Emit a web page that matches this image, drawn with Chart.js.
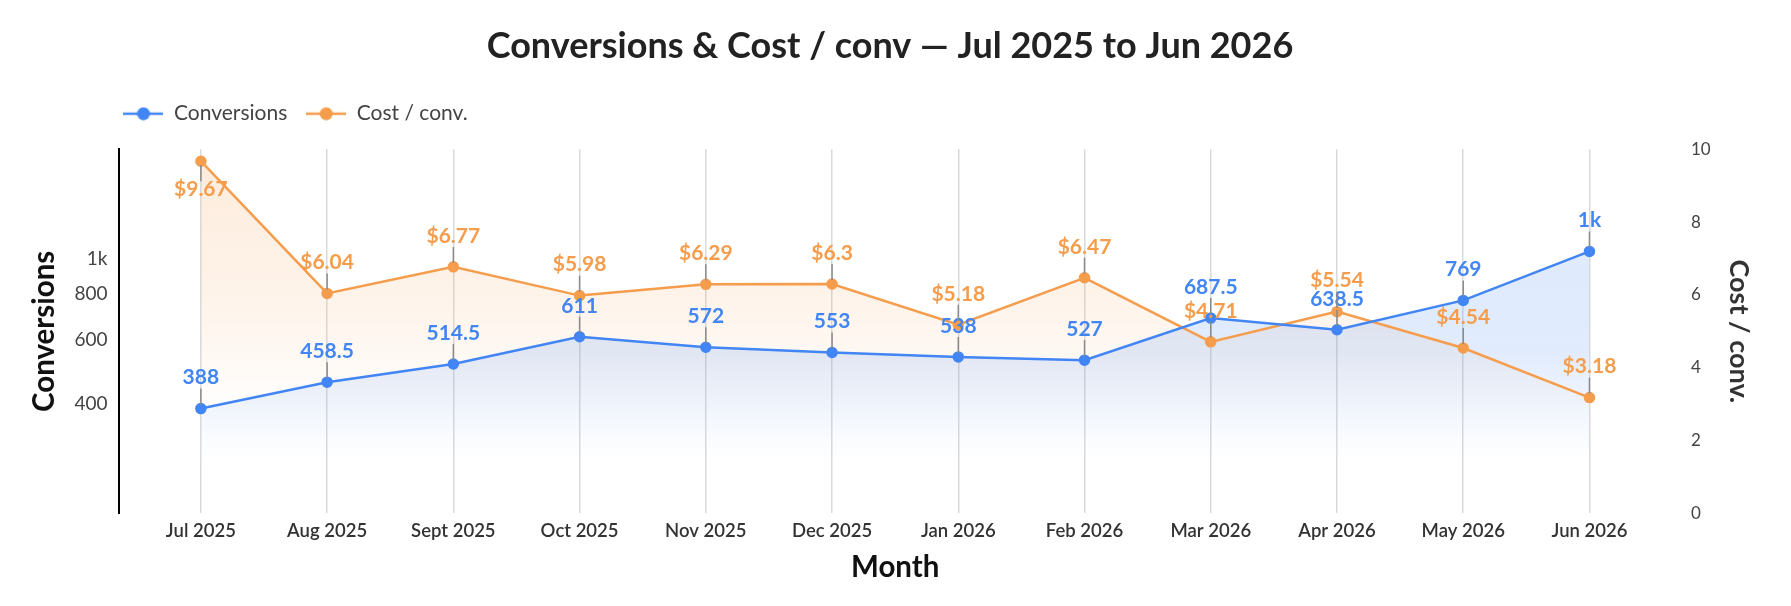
<!DOCTYPE html>
<html>
<head>
<meta charset="utf-8">
<script src="https://cdn.jsdelivr.net/npm/chart.js@4.4.0/dist/chart.umd.min.js"></script>
<style>
  html, body { margin: 0; padding: 0; background: #fff; }
  #wrap { width: 1791px; height: 606px; }
</style>
</head>
<body>
<div id="wrap"><canvas id="chart"></canvas></div>
<script>
const months = ["Jul 2025", "Aug 2025", "Sept 2025", "Oct 2025", "Nov 2025", "Dec 2025",
                "Jan 2026", "Feb 2026", "Mar 2026", "Apr 2026", "May 2026", "Jun 2026"];
const conversions = [388, 458.5, 514.5, 611, 572, 553, 538, 527, 687.5, 638.5, 769, 1048];
const costPerConv = [9.67, 6.04, 6.77, 5.98, 6.29, 6.3, 5.18, 6.47, 4.71, 5.54, 4.54, 3.18];
const convTicks = [400, 600, 800, 1000];

const BLUE = "#4285f4";
const ORANGE = "#f59d4c";

Chart.defaults.font.family = "Lato";

function fmtConv(v) {
  return v >= 1000 ? Math.round(v / 1000) + "k" : String(v);
}
function fmtCost(v) {
  return "$" + v;
}

// little line + dot used as the legend marker
function legendMark(color) {
  var c = document.createElement("canvas");
  c.width = 40;
  c.height = 14;
  var g = c.getContext("2d");
  g.strokeStyle = color;
  g.lineWidth = 2.5;
  g.beginPath();
  g.moveTo(0, 7);
  g.lineTo(40, 7);
  g.stroke();
  g.fillStyle = color;
  g.beginPath();
  g.arc(20, 7, 6.5, 0, Math.PI * 2);
  g.fill();
  return c;
}

// vertical fade: [stop, alpha] pairs
function fade(rgb, stops) {
  return function (ctx) {
    var area = ctx.chart.chartArea;
    if (!area) return "rgba(0,0,0,0)";
    var g = ctx.chart.ctx.createLinearGradient(0, area.top, 0, area.bottom);
    stops.forEach(function (s) {
      g.addColorStop(s[0], "rgba(" + rgb + "," + s[1] + ")");
    });
    return g;
  };
}

// value labels with a short leader line
const pointLabels = {
  id: "pointLabels",
  afterDatasetsDraw(chart) {
    var ctx = chart.ctx;
    var top = chart.chartArea.top;
    var fmts = [fmtConv, fmtCost];
    ctx.save();
    ctx.font = "bold 21px Lato";
    ctx.textAlign = "center";
    ctx.textBaseline = "middle";
    chart.data.datasets.forEach(function (ds, di) {
      var meta = chart.getDatasetMeta(di);
      meta.data.forEach(function (pt, i) {
        var down = pt.y - 42 < top;
        var dir = down ? 1 : -1;
        ctx.strokeStyle = "#8a8a8a";
        ctx.lineWidth = 1.5;
        ctx.beginPath();
        ctx.moveTo(pt.x, pt.y + dir * 4);
        ctx.lineTo(pt.x, pt.y + dir * 20);
        ctx.stroke();
        ctx.fillStyle = ds.borderColor;
        ctx.fillText(fmts[di](ds.data[i].y), pt.x, pt.y + dir * (down ? 28 : 31));
      });
    });
    ctx.restore();
  }
};

// legend sits a little right of the axis line, with extra room below it
const legendTweak = {
  id: "legendTweak",
  beforeLayout(chart) {
    var lg = chart.legend;
    if (!lg || lg._tweaked) return;
    var fit = lg.fit;
    lg.fit = function () {
      fit.call(this);
      this.height += 15;
    };
    lg._tweaked = true;
  },
  afterLayout(chart) {
    var lg = chart.legend;
    if (!lg) return;
    var dx = chart.chartArea.left + 4 - lg.options.labels.padding - lg.left;
    lg.left += dx;
    lg.right += dx;
  }
};

var ctx = document.querySelector("#chart").getContext("2d");
new Chart(ctx, {
  type: "line",
  data: {
    datasets: [
      {
        label: "Conversions",
        data: conversions.map(function (v, i) { return { x: i, y: v }; }),
        yAxisID: "y",
        borderColor: BLUE,
        backgroundColor: fade("66,133,244", [[0, 0.18], [0.55, 0.16], [0.85, 0], [1, 0]]),
        pointBackgroundColor: BLUE,
        pointBorderColor: BLUE,
        pointRadius: 4.5,
        borderWidth: 2.5,
        fill: "start",
        tension: 0
      },
      {
        label: "Cost / conv.",
        data: costPerConv.map(function (v, i) { return { x: i, y: v }; }),
        yAxisID: "y1",
        borderColor: ORANGE,
        backgroundColor: fade("245,157,76", [[0, 0.2], [0.4, 0.12], [0.75, 0], [1, 0]]),
        pointBackgroundColor: ORANGE,
        pointBorderColor: ORANGE,
        pointRadius: 4.5,
        borderWidth: 2.5,
        fill: "start",
        tension: 0
      }
    ]
  },
  options: {
    responsive: true,
    maintainAspectRatio: false,
    animation: false,
    layout: { padding: { left: 21, right: 32, top: 0, bottom: 21 } },
    plugins: {
      filler: { drawTime: "beforeDatasetsDraw" },
      title: {
        display: true,
        text: "Conversions & Cost / conv \u2014 Jul 2025 to Jun 2026",
        color: "#222",
        font: { size: 36, weight: "bold" },
        padding: { top: 25, bottom: 16 }
      },
      legend: {
        position: "top",
        align: "start",
        labels: {
          usePointStyle: true,
          pointStyleWidth: 40,
          boxHeight: 14,
          padding: 19,
          color: "#444",
          font: { size: 21 },
          generateLabels: function (chart) {
            return chart.data.datasets.map(function (ds, i) {
              return {
                text: ds.label,
                pointStyle: legendMark(ds.borderColor),
                fillStyle: ds.borderColor,
                strokeStyle: ds.borderColor,
                lineWidth: 0,
                fontColor: "#444",
                hidden: !chart.isDatasetVisible(i),
                datasetIndex: i
              };
            });
          }
        }
      },
      tooltip: { enabled: false }
    },
    scales: {
      x: {
        type: "linear",
        min: -0.645,
        max: 11.645,
        afterBuildTicks: function (scale) {
          scale.ticks = months.map(function (m, i) { return { value: i }; });
        },
        grid: { color: "#dadada", lineWidth: 1.5, drawTicks: false },
        border: { display: false },
        ticks: {
          callback: function (v) { return months[v]; },
          color: "#333",
          font: { size: 18.5, weight: "600" },
          padding: 7,
          maxRotation: 0,
          autoSkip: false
        },
        title: {
          display: true,
          text: "Month",
          color: "#111",
          font: { size: 29.5, weight: "bold" },
          padding: { top: 0, bottom: 0 }
        }
      },
      y: {
        type: "logarithmic",
        position: "left",
        min: 200,
        max: 2000,
        afterBuildTicks: function (scale) {
          scale.ticks = convTicks.map(function (v) { return { value: v }; });
        },
        grid: { display: false, drawTicks: false },
        border: { display: true, color: "#000", width: 2 },
        ticks: {
          color: "#444",
          font: { size: 19 },
          padding: 12,
          callback: function (v) { return fmtConv(v); }
        },
        title: {
          display: true,
          text: "Conversions",
          color: "#111",
          font: { size: 29.5, weight: "bold" },
          padding: { top: 6, bottom: 0 }
        }
      },
      y1: {
        type: "linear",
        position: "right",
        min: 0,
        max: 10,
        grid: { display: false },
        border: { display: false },
        ticks: { stepSize: 2, color: "#444", font: { size: 17 }, padding: 12 },
        title: {
          display: true,
          text: "Cost / conv.",
          color: "#333",
          font: { size: 27, weight: "bold" },
          padding: { top: 4, bottom: 0 }
        }
      }
    }
  },
  plugins: [pointLabels, legendTweak]
});
</script>
</body>
</html>
